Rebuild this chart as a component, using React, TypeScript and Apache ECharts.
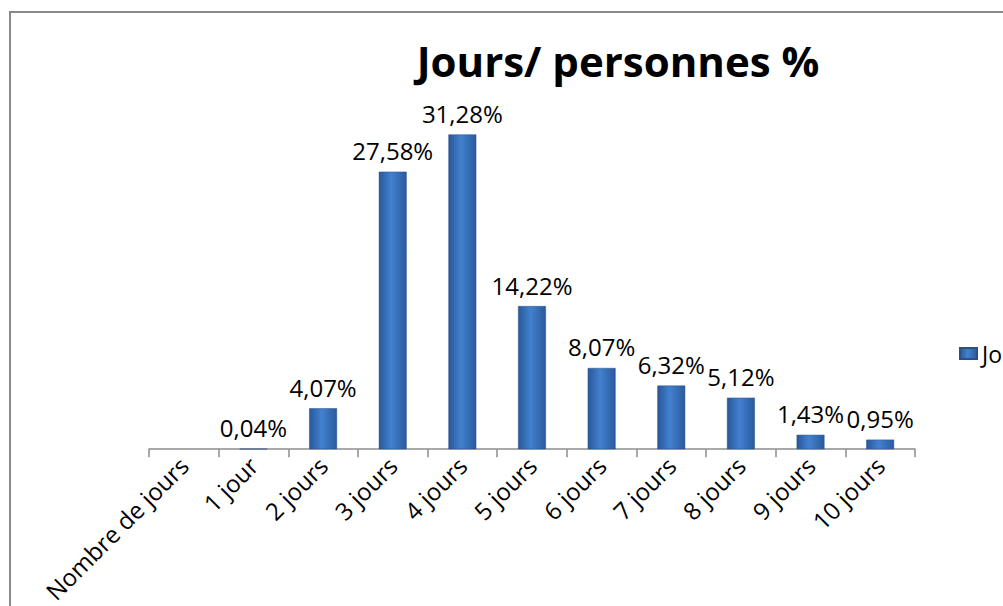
import React, { useEffect, useRef } from "react";
import * as echarts from "echarts";

const categories = ["Nombre de jours", "1 jour", "2 jours", "3 jours", "4 jours", "5 jours", "6 jours", "7 jours", "8 jours", "9 jours", "10 jours"];
const values: (number | null)[] = [null, 0.04, 4.07, 27.58, 31.28, 14.22, 8.07, 6.32, 5.12, 1.43, 0.95];
const seriesName = "Jours/ personnes %";
const titleText = "Jours/ personnes %";

export default function App() {
  const ref = useRef<HTMLDivElement>(null);
  useEffect(() => {
    if (!ref.current) return;
    const chart = echarts.init(ref.current, undefined, { renderer: "svg" });
    const barColor = new echarts.graphic.LinearGradient(0, 0, 1, 0, [
      { offset: 0, color: "#28589a" },
      { offset: 0.45, color: "#4281cf" },
      { offset: 1, color: "#2a5a9c" },
    ]);
    chart.setOption({
      animation: false,
      backgroundColor: "#ffffff",
      title: {
        text: titleText,
        left: 613,
        textAlign: "center",
        top: 34,
        textStyle: { fontFamily: "Open Sans", fontWeight: "bold", fontSize: 42, color: "#000" },
      },
      graphic: [
        {
          type: "rect",
          shape: { x: 10, y: 12, width: 1010, height: 620 },
          style: { fill: "none", stroke: "#8a8a8a", lineWidth: 2 },
          silent: true,
        },
      ],
      legend: {
        left: 954,
        top: 337,
        itemWidth: 17,
        itemHeight: 11,
        itemGap: 6,
        textStyle: { fontFamily: "Open Sans", fontSize: 23, color: "#000" },
        data: [{ name: seriesName, icon: "rect" }],
      },
      grid: { left: 149, right: 88, top: 97, bottom: 155, containLabel: false },
      xAxis: {
        type: "category",
        data: categories,
        axisLine: { lineStyle: { color: "#8c8c8c", width: 1.5 } },
        axisTick: { show: true, length: 8, lineStyle: { color: "#8c8c8c", width: 1.5 } },
        axisLabel: {
          rotate: 45,
          interval: 0,
          margin: 12,
          fontFamily: "Open Sans",
          fontSize: 24,
          color: "#000",
        },
      },
      yAxis: {
        type: "value",
        min: 0,
        max: 35,
        show: false,
        splitLine: { show: false },
      },
      series: [
        {
          name: seriesName,
          type: "bar",
          data: values,
          barWidth: "40%",
          itemStyle: { color: barColor, borderColor: "#2a5088", borderWidth: 0.5 },
          label: {
            show: true,
            position: "top",
            distance: 9,
            fontFamily: "Open Sans",
            fontSize: 24,
            color: "#000",
            formatter: (p: any) => (p.value == null ? "" : p.value.toFixed(2).replace(".", ",") + "%"),
          },
        },
      ],
    });
    return () => chart.dispose();
  }, []);
  return <div ref={ref} style={{ position: "fixed", left: 0, top: 0, width: 1003, height: 606 }} />;
}
